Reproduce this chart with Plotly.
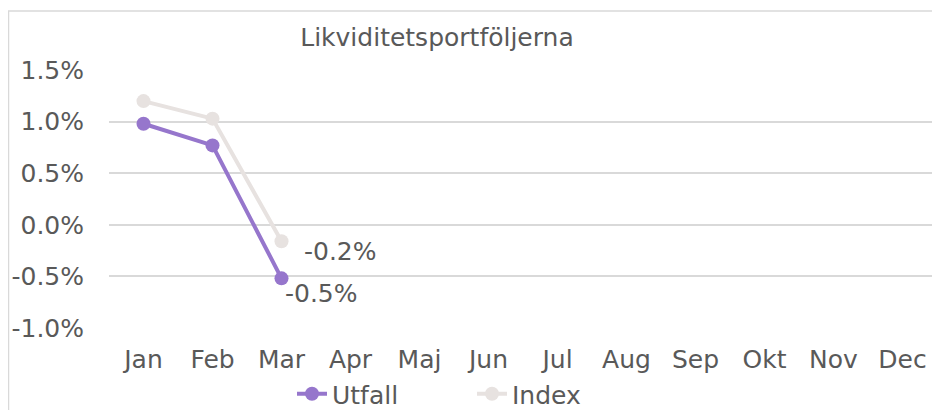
import plotly.graph_objects as go

months = ["Jan", "Feb", "Mar", "Apr", "Maj", "Jun", "Jul", "Aug", "Sep", "Okt", "Nov", "Dec"]
utfall = [0.0098, 0.0077, -0.0052]
index_vals = [0.0120, 0.0103, -0.0016]
utfall_label = "-0.5%"
index_label = "-0.2%"
y_tickvals = [-0.01, -0.005, 0.0, 0.005, 0.01, 0.015]
y_ticktext = ["-1.0%", "-0.5%", "0.0%", "0.5%", "1.0%", "1.5%"]
title_text = "Likviditetsportföljerna"

PURPLE = "#9676CC"
LIGHT = "#E7E2E0"
TXT = "#595959"
GRID = "#D9D9D9"
FONT = "DejaVu Sans"
FS = 25

# figure-pixel layout (page adds an 8px body offset)
L, R, T, B = 101, 929, 62, 320
W, H = 940, 410
def px(x):
    return (x - L) / (R - L)
def py(y):
    return (B - y) / (B - T)

fig = go.Figure()
fig.add_trace(go.Scatter(x=months[:len(index_vals)], y=index_vals, name="Index", mode="lines+markers",
                         line=dict(color=LIGHT, width=4), marker=dict(size=14, color=LIGHT)))
fig.add_trace(go.Scatter(x=months[:len(utfall)], y=utfall, name="Utfall", mode="lines+markers",
                         line=dict(color=PURPLE, width=4), marker=dict(size=14, color=PURPLE)))

fig.add_annotation(x=months[len(index_vals) - 1], y=index_vals[-1], text=index_label,
                   showarrow=False, xanchor="left", yanchor="middle", xshift=20, yshift=-10,
                   font=dict(family=FONT, size=FS, color=TXT))
fig.add_annotation(x=months[len(utfall) - 1], y=utfall[-1], text=utfall_label,
                   showarrow=False, xanchor="left", yanchor="middle", xshift=1, yshift=-15,
                   font=dict(family=FONT, size=FS, color=TXT))

fig.add_shape(type="line", xref="paper", yref="paper", x0=px(0), x1=px(950), y0=py(3), y1=py(3),
              line=dict(color=GRID, width=1.5))
fig.add_shape(type="line", xref="paper", yref="paper", x0=px(0.5), x1=px(0.5), y0=py(3), y1=py(420),
              line=dict(color=GRID, width=1.5))

fig.update_layout(
    width=W, height=H,
    margin=dict(l=L, r=W - R, t=T, b=H - B),
    paper_bgcolor="white", plot_bgcolor="white",
    font=dict(family=FONT, size=FS, color=TXT),
    title=dict(text=title_text, x=429 / W, xanchor="center", xref="container",
               y=1 - 29 / H, yanchor="middle", yref="container",
               font=dict(family=FONT, size=FS, color=TXT)),
    showlegend=True,
    legend=dict(orientation="h", x=284 / W, xanchor="left", xref="container",
                y=(H - 386) / H, yanchor="middle", yref="container",
                font=dict(family=FONT, size=FS, color=TXT), traceorder="reversed",
                entrywidth=135, entrywidthmode="pixels", bgcolor="rgba(0,0,0,0)"),
    xaxis=dict(categoryorder="array", categoryarray=months, range=[-0.5, 11.5],
               showgrid=False, showline=False, ticks="", tickfont=dict(size=FS, color=TXT),
               fixedrange=True, automargin=False, ticklabelstandoff=14),
    yaxis=dict(range=[-0.01002, 0.01502], tickvals=y_tickvals, ticktext=y_ticktext,
               showgrid=True, gridcolor=GRID, gridwidth=1.5, zeroline=False,
               showline=False, ticks="", ticklabelstandoff=24, automargin=False,
               tickfont=dict(size=FS, color=TXT)),
)

fig.write_html("out.html")
